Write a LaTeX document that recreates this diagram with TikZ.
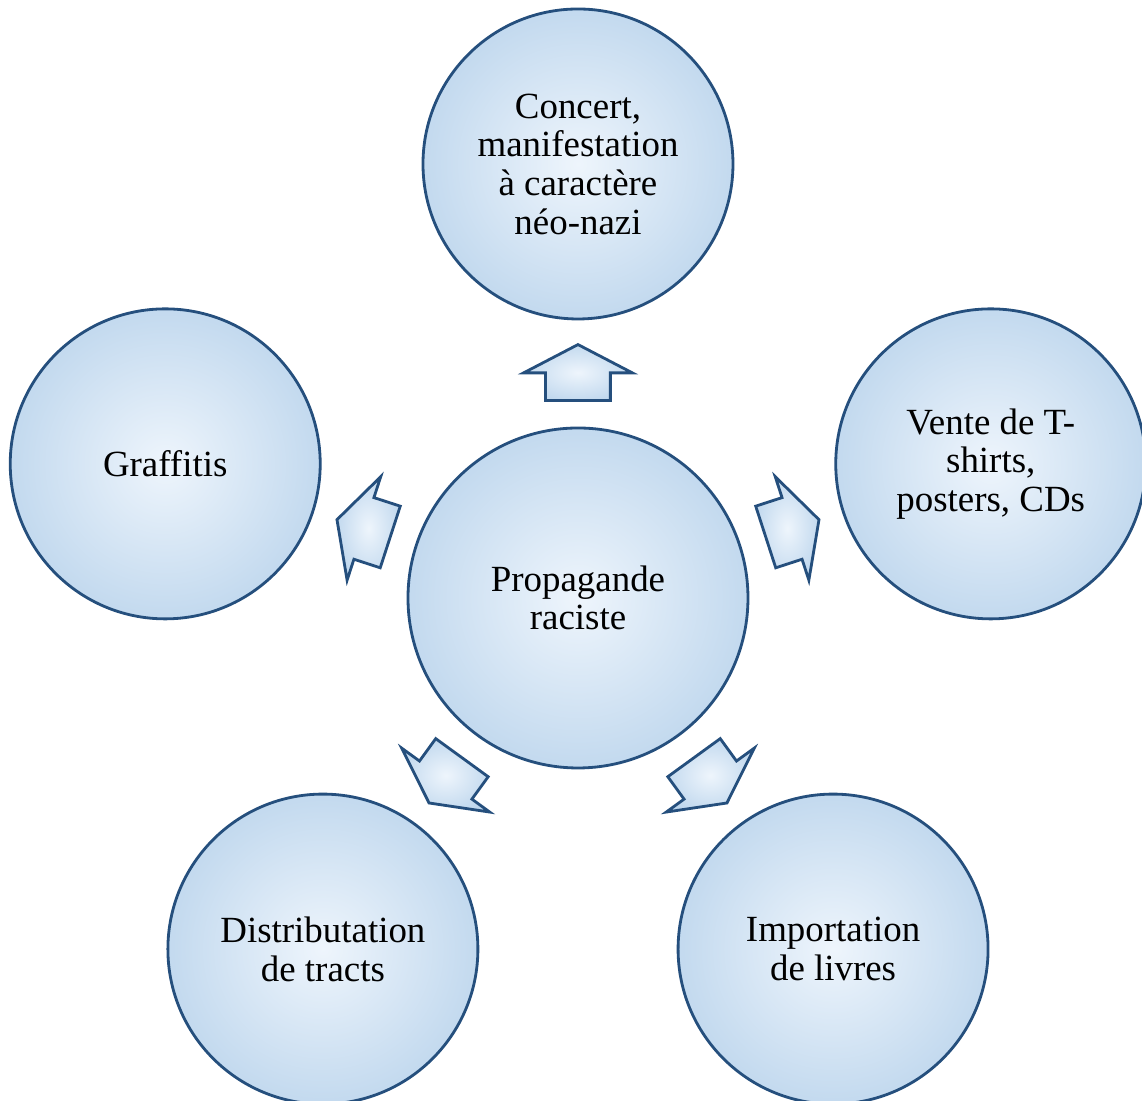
\documentclass[tikz,border=0pt]{standalone}
\usepackage{fontspec}
\setmainfont{Liberation Serif}
\usetikzlibrary{calc,shapes.arrows}
\definecolor{rim}{RGB}{37,79,125}
\definecolor{bubin}{RGB}{238,245,252}
\definecolor{bubout}{RGB}{174,204,232}
\definecolor{bubedge}{RGB}{188,213,236}
\pgfdeclareradialshading{bubble}{\pgfpoint{0bp}{0bp}}{color(0bp)=(bubin); color(37bp)=(bubout); color(50bp)=(bubedge); color(60bp)=(bubedge)}
\begin{document}
\begin{tikzpicture}[
        bubble/.style={circle, draw=rim, line width=0.8pt, shade, shading=bubble, align=center, inner sep=0pt, minimum size=3.1cm, font=\fontsize{10.5}{11}\selectfont},
        blockarrow/.style={single arrow, draw=rim, line width=0.8pt, shade, shading=bubble, inner xsep=0pt, inner ysep=0.31cm, single arrow head extend=0.22cm, single arrow tip angle=125, minimum height=0.56cm, anchor=tail}]
        \useasboundingbox (-5.78,-5.03) rectangle (5.64,5.98);
        % centre and the five outer circles
        \node[bubble, minimum size=3.4cm] (prop) at (0,0) {Propagande\\raciste};
        \node[bubble] (concert) at (90:4.34) {Concert,\\manifestation\\à caractère\\néo-nazi};
        \node[bubble] (vente) at (18:4.34) {Vente de T-\\shirts,\\posters, CDs};
        \node[bubble] (import) at (-54:4.34) {Importation\\de livres};
        \node[bubble] (tracts) at (-126:4.34) {Distributation\\de tracts};
        \node[bubble] (graff) at (162:4.34) {Graffitis};
        % block arrows
        \node[blockarrow, rotate=90] (arrconcert) at ($(prop)!1.96cm!(concert)$) {};
        \node[blockarrow, rotate=18] (arrvente) at ($(prop)!1.96cm!(vente)$) {};
        \node[blockarrow, rotate=-54] (arrimport) at ($(prop)!1.96cm!(import)$) {};
        \node[blockarrow, rotate=-126] (arrtracts) at ($(prop)!1.96cm!(tracts)$) {};
        \node[blockarrow, rotate=162] (arrgraff) at ($(prop)!1.96cm!(graff)$) {};
\end{tikzpicture}
\end{document}
